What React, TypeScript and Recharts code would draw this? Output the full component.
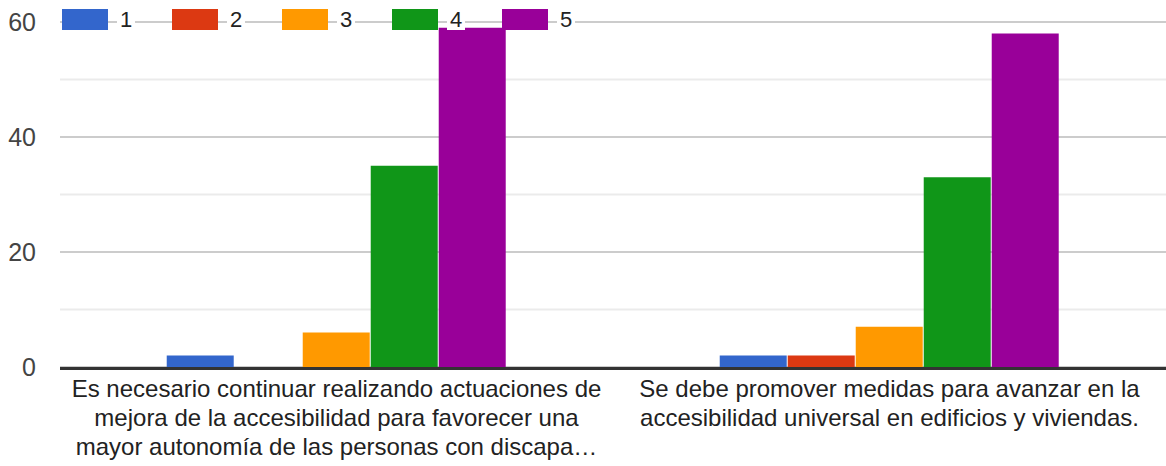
import React from "react";
import { BarChart, Bar, XAxis, YAxis, CartesianGrid } from "recharts";

const categories = [
  "Es necesario continuar realizando actuaciones de\nmejora de la accesibilidad para favorecer una\nmayor autonomía de las personas con discapa…",
  "Se debe promover medidas para avanzar en la\naccesibilidad universal en edificios y viviendas.",
];
const seriesNames = ["1", "2", "3", "4", "5"];
const s1 = [2, 2];
const s2 = [0, 2];
const s3 = [6, 7];
const s4 = [35, 33];
const s5 = [59, 58];
const yTicks = [0, 10, 20, 30, 40, 50, 60];

const COLORS = ["#3366cc", "#dc3912", "#ff9900", "#109618", "#990099"];
const FONT = '"Liberation Sans", Arial, sans-serif';

const series = [s1, s2, s3, s4, s5];
const data = categories.map((name, i) => {
  const row: any = { name };
  seriesNames.forEach((s, k) => (row[s] = series[k][i]));
  return row;
});

function XTick({ x, y, payload }: any) {
  const lines = String(payload.value).split("\n");
  return (
    <text x={x} y={y} textAnchor="middle" fill="#222" fontSize={24} fontFamily={FONT}>
      {lines.map((l, i) => (
        <tspan key={i} x={x} dy={i === 0 ? 30 : 29}>
          {l}
        </tspan>
      ))}
    </text>
  );
}

function YTick({ y, payload }: any) {
  if (payload.value % 20 !== 0) return null;
  return (
    <text x={36} y={y} dy="0.36em" textAnchor="end" fill="#444" fontSize={25} fontFamily={FONT}>
      {payload.value}
    </text>
  );
}

function GridLine(props: any) {
  const minor = props.index % 2 === 1;
  return (
    <line
      x1={props.x1}
      y1={props.y1}
      x2={props.x2}
      y2={props.y2}
      stroke={minor ? "#ebebeb" : "#cccccc"}
      strokeWidth={2}
    />
  );
}

export default function App() {
  return (
    <div style={{ position: "relative", width: 1166, height: 466, background: "#fff" }}>
      <style>{"body{margin:0}"}</style>
      <BarChart
        width={1166}
        height={466}
        data={data}
        margin={{ top: 22, right: 0, left: 0, bottom: 0 }}
        barCategoryGap="19.3%"
        barGap={1}
      >
        <CartesianGrid vertical={false} horizontal={GridLine} />
        <YAxis
          width={60}
          domain={[0, 60]}
          ticks={yTicks}
          interval={0}
          axisLine={false}
          tickLine={false}
          tick={<YTick />}
        />
        <XAxis
          dataKey="name"
          height={99}
          interval={0}
          tickLine={false}
          tickSize={0}
          tickMargin={0}
          tick={<XTick />}
          axisLine={{ stroke: "#333", strokeWidth: 3, transform: "translate(0 1.5)" }}
        />
        {seriesNames.map((s, k) => (
          <Bar key={s} dataKey={s} fill={COLORS[k]} isAnimationActive={false} />
        ))}
      </BarChart>
      <div style={{ position: "absolute", left: 62, top: 9, display: "flex", fontFamily: FONT }}>
        {seriesNames.map((s, k) => (
          <div key={s} style={{ width: 110, display: "flex", alignItems: "center", height: 21 }}>
            <div style={{ width: 46, height: 21, background: COLORS[k] }} />
            <span
              style={{
                marginLeft: 9,
                padding: "0 3px",
                background: "#fff",
                color: "#222",
                fontSize: 22,
                lineHeight: "21px",
              }}
            >
              {s}
            </span>
          </div>
        ))}
      </div>
    </div>
  );
}
